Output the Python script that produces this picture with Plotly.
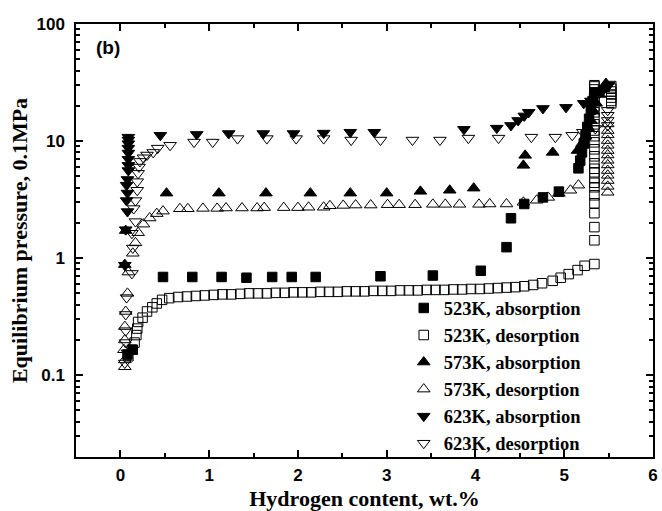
import plotly.graph_objects as go

# ---------------- data ----------------
abs523_x = [0.08, 0.14, 0.48, 0.81, 1.14, 1.42, 1.71, 1.93, 2.20, 2.93, 3.52, 4.06, 4.35, 4.40, 4.55, 4.76, 4.94,
            5.16, 5.18, 5.20, 5.22, 5.24, 5.26, 5.28, 5.30, 5.32, 5.34]
abs523_y = [0.15, 0.165, 0.69, 0.69, 0.69, 0.68, 0.69, 0.69, 0.69, 0.70, 0.71, 0.78, 1.24, 2.19, 2.9, 3.3, 3.7,
            5.85, 6.8, 8.0, 9.5, 11.2, 13.2, 15.5, 18.5, 22, 26]

des523_x = [5.53, 5.53, 5.53, 5.53, 5.53, 5.53, 5.53,
            5.34, 5.34, 5.34, 5.34, 5.34, 5.34, 5.34, 5.34, 5.34, 5.34, 5.34, 5.34, 5.34, 5.34, 5.34, 5.34,
            5.34, 5.34, 5.34, 5.34, 5.34, 5.34, 5.34, 5.34, 5.34, 5.34,
            5.34, 5.23, 5.15, 5.05, 4.96, 4.87, 4.75, 4.65, 4.55, 4.45, 4.35, 4.25, 4.15, 4.05, 3.95, 3.85,
            3.75, 3.65, 3.55, 3.45, 3.35, 3.25, 3.15, 3.05, 2.95, 2.85, 2.75, 2.65, 2.55, 2.45, 2.35, 2.25,
            2.15, 2.05, 1.95, 1.85, 1.75, 1.65, 1.55, 1.45, 1.35, 1.25, 1.15, 1.05, 0.95, 0.85, 0.75, 0.65,
            0.55, 0.47, 0.41, 0.36, 0.30, 0.25, 0.20, 0.19, 0.18, 0.16, 0.13, 0.09]
des523_y = [29.5, 28, 26.5, 25, 23.5, 22, 21,
            30, 29.3, 27.6, 26, 24, 22.2, 19.8, 17.6, 15.6, 13.9, 12.3, 11, 9.75, 8.5, 7.41, 6.45,
            5.8, 5.41, 4.81, 4.4, 4.03, 3.44, 2.94, 2.42, 1.84, 1.42,
            0.89, 0.86, 0.79, 0.73, 0.68, 0.64, 0.61, 0.59, 0.575, 0.565, 0.56, 0.555, 0.55, 0.545, 0.545, 0.54,
            0.54, 0.535, 0.535, 0.535, 0.53, 0.53, 0.53, 0.525, 0.525, 0.525, 0.52, 0.52, 0.52, 0.515, 0.515, 0.515,
            0.51, 0.51, 0.51, 0.505, 0.505, 0.5, 0.5, 0.5, 0.495, 0.49, 0.49, 0.485, 0.48, 0.475, 0.47, 0.465,
            0.455, 0.44, 0.41, 0.38, 0.35, 0.31, 0.285, 0.25, 0.22, 0.19, 0.165, 0.145]

abs573_x = [0.05, 0.06, 0.52, 1.11, 1.64, 2.14, 2.59, 3.00, 3.38, 3.71, 3.98, 4.54, 4.56, 4.87,
            5.15, 5.20, 5.24, 5.27, 5.30, 5.33, 5.36, 5.40, 5.44, 5.47]
abs573_y = [0.88, 1.72, 3.59, 3.59, 3.59, 3.59, 3.59, 3.59, 3.72, 3.8, 3.96, 6.2, 7.55, 8.0,
            8.3, 9.5, 11, 13, 15, 18, 21, 25, 28, 31]

des573_x = [5.49, 5.49, 5.49, 5.49, 5.49, 5.49, 5.49, 5.49, 5.49, 5.49, 5.49, 5.49, 5.49, 5.49,
            5.16, 5.07, 4.94, 4.82, 4.69, 4.54, 4.35, 4.16, 4.04, 3.82, 3.66, 3.52, 3.32, 3.14, 3.01,
            2.82, 2.65, 2.51, 2.36, 2.29, 2.12, 2.00, 1.84, 1.62, 1.54, 1.37, 1.19, 1.09, 0.93, 0.76,
            0.67, 0.48, 0.41, 0.33, 0.26, 0.20, 0.17, 0.14, 0.09, 0.08, 0.06, 0.05, 0.05, 0.04, 0.05, 0.05]
des573_y = [14, 12.3, 11.3, 10.1, 9.2, 8.3, 7.6, 6.85, 6.25, 5.6, 5.1, 4.6, 4.1, 3.65,
            4.2, 3.8, 3.57, 3.3, 3.12, 3.0, 2.9, 2.9, 2.88, 2.88, 2.88, 2.88, 2.86, 2.86, 2.86,
            2.84, 2.84, 2.82, 2.8, 2.72, 2.72, 2.7, 2.7, 2.7, 2.68, 2.68, 2.68, 2.66, 2.66, 2.64,
            2.64, 2.52, 2.4, 2.2, 1.95, 1.65, 1.35, 1.1, 0.76, 0.5, 0.35, 0.26, 0.2, 0.165, 0.135, 0.118]

abs623_x = [0.05, 0.06, 0.08, 0.07, 0.08, 0.07, 0.08, 0.09, 0.09, 0.09, 0.09, 0.09, 0.09, 0.09, 0.09,
            0.45, 0.86, 1.22, 1.61, 1.95, 2.29, 2.59, 2.86, 3.87, 4.24, 4.40, 4.48, 4.55, 4.60, 4.76,
            5.02, 5.22, 5.30, 5.35, 5.40, 5.45, 5.50]
abs623_y = [0.87, 1.75, 2.5, 3.1, 3.6, 4.2, 4.7, 5.6, 6.2, 7.0, 7.9, 8.7, 9.5, 10.2, 10.8,
            11.2, 11.4, 11.6, 11.6, 11.6, 11.7, 11.9, 11.9, 12.6, 12.9, 13.6, 15.0, 16.4, 17.6, 19.0,
            19.4, 21, 22, 24, 26, 28, 30]

des623_x = [5.49, 5.49, 5.49, 5.49, 5.35, 5.21, 5.09, 4.90, 4.63, 4.26, 3.92, 3.60, 3.29, 2.93, 2.60,
            2.29, 1.98, 1.65, 1.32, 1.04, 0.83, 0.56, 0.42, 0.37, 0.30, 0.26, 0.22, 0.21, 0.20, 0.19,
            0.19, 0.17, 0.15, 0.17, 0.13, 0.14, 0.13, 0.07, 0.06, 0.06, 0.06, 0.08, 0.05]
des623_y = [18.3, 16.6, 15, 13.6, 12.8, 11.9, 11.2, 10.8, 10.8, 10.6, 10.6, 10.2, 10.2, 10.2, 10.2,
            10.5, 10.5, 10.5, 10.5, 9.8, 9.8, 9.2, 8.7, 8.0, 7.6, 7.2, 6.7, 6.0, 5.3, 4.5,
            3.8, 3.1, 2.65, 2.05, 1.63, 1.22, 0.74, 0.46, 0.33, 0.24, 0.19, 0.155, 0.127]

series = [
    ("523K, absorption", abs523_x, abs523_y, "square", 9.5),
    ("523K, desorption", des523_x, des523_y, "square-open", 9.5),
    ("573K, absorption", abs573_x, abs573_y, "triangle-up", 11),
    ("573K, desorption", des573_x, des573_y, "triangle-up-open", 11),
    ("623K, absorption", abs623_x, abs623_y, "triangle-down", 11),
    ("623K, desorption", des623_x, des623_y, "triangle-down-open", 11),
]

x_ticks = [0, 1, 2, 3, 4, 5, 6]
y_ticks = [0.1, 1, 10, 100]
y_tick_text = ["0.1", "1", "10", "100"]

fig = go.Figure()
for name, xs, ys, sym, sz in series:
    fig.add_trace(go.Scatter(
        x=xs, y=ys, mode="markers", name=name,
        marker=dict(symbol=sym, size=sz, color="black", line=dict(color="black", width=1)),
    ))

tickfont = dict(family="Liberation Sans", size=17, color="black", weight="bold")
titlefont = dict(family="Liberation Serif", size=22, color="black", weight="bold")

fig.update_layout(
    width=662, height=511,
    margin=dict(l=76, r=4, t=24, b=53),
    paper_bgcolor="white", plot_bgcolor="white",
    showlegend=True,
    legend=dict(x=0.568, y=0.387, xanchor="left", yanchor="top",
                bgcolor="rgba(0,0,0,0)",
                font=dict(family="Liberation Serif", size=18.5, color="black", weight="bold")),
    xaxis=dict(range=[-0.5, 6], tickvals=x_ticks, ticks="inside", ticklen=7, tickwidth=1.5,
               tickcolor="black", showline=True, linecolor="black", linewidth=1.5, mirror="ticks",
               showgrid=False, zeroline=False, tickfont=tickfont, ticklabelstandoff=2,
               minor=dict(ticks="inside", ticklen=4, tickwidth=1.5, tickcolor="black", dtick=0.5, showgrid=False),
               title=dict(text="Hydrogen content, wt.%", font=titlefont, standoff=6)),
    yaxis=dict(type="log", range=[-1.699, 2], tickvals=y_ticks, ticktext=y_tick_text,
               ticks="inside", ticklen=7, tickwidth=1.5, tickcolor="black",
               showline=True, linecolor="black", linewidth=1.5, mirror="ticks",
               showgrid=False, zeroline=False, tickfont=tickfont, ticklabelstandoff=6,
               minor=dict(ticks="inside", ticklen=4, tickwidth=1.5, tickcolor="black", dtick="D1", showgrid=False),
               title=dict(text="Equilibrium pressure, 0.1MPa", font=titlefont, standoff=3)),
    annotations=[dict(text="(b)", xref="paper", yref="paper", x=0.031, y=0.945,
                      xanchor="left", yanchor="middle", showarrow=False,
                      font=dict(family="Liberation Sans", size=19, color="black", weight="bold"))],
)

fig.write_html("out.html")
